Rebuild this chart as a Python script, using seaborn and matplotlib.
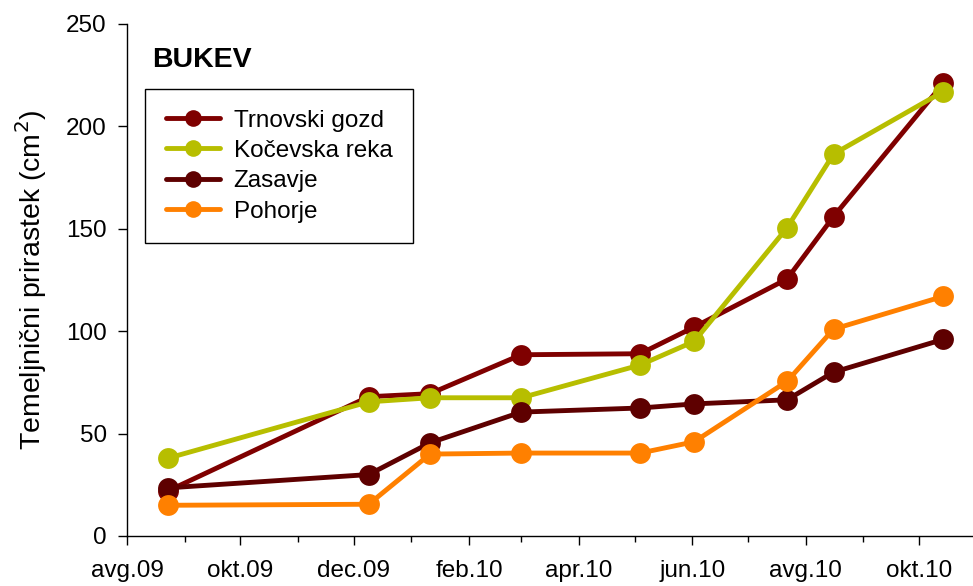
import matplotlib
matplotlib.use("Agg")
import matplotlib.pyplot as plt
import matplotlib.dates as mdates
from matplotlib.ticker import FuncFormatter
import seaborn as sns
import pandas as pd

# ---- data ----
dates = ["2009-08-23", "2009-12-09", "2010-01-11", "2010-03-01", "2010-05-04",
         "2010-06-02", "2010-07-22", "2010-08-16", "2010-10-14"]
sites = ["Trnovski gozd", "Kočevska reka", "Zasavje", "Pohorje"]
trnovski = [22, 68, 69.5, 88.5, 89, 102, 125.5, 156, 221]
kocevska = [38, 65.5, 67.5, 67.5, 83.5, 95, 150.5, 186.5, 217]
zasavje = [23.5, 30, 45.5, 60.5, 62.5, 64.5, 66.5, 80, 96]
pohorje = [15, 15.5, 40, 40.5, 40.5, 46, 75.5, 101, 117]
colors = ["#7f0000", "#b7be00", "#5e0000", "#ff8000"]
month_names = {1: "jan", 2: "feb", 3: "mar", 4: "apr", 5: "maj", 6: "jun",
               7: "jul", 8: "avg", 9: "sep", 10: "okt", 11: "nov", 12: "dec"}
yticks = [0, 50, 100, 150, 200, 250]

series = [trnovski, kocevska, zasavje, pohorje]
rows = []
for s, vals in zip(sites, series):
    for d, v in zip(dates, vals):
        rows.append({"date": pd.Timestamp(d), "value": v, "site": s})
df = pd.DataFrame(rows)

sns.set_theme(style="ticks")
plt.rcParams["font.family"] = ["Liberation Sans", "DejaVu Sans"]
plt.rcParams["text.color"] = "black"
plt.rcParams["axes.labelcolor"] = "black"

fig = plt.figure(figsize=(9.73, 5.86), dpi=100)
ax = fig.add_axes([127 / 973, 50 / 586, 846 / 973, 512 / 586])

sns.lineplot(data=df, x="date", y="value", hue="site", hue_order=sites,
             palette=colors, marker="o", markersize=15, markeredgewidth=0,
             linewidth=3.5, ax=ax, legend=True)

ax.set_xlim(pd.Timestamp("2009-08-01"), pd.Timestamp("2010-10-30"))
ax.set_ylim(0, 250)
ax.set_yticks(yticks)

ax.xaxis.set_major_locator(mdates.MonthLocator(bymonth=[2, 4, 6, 8, 10, 12]))
ax.xaxis.set_minor_locator(mdates.MonthLocator())
ax.xaxis.set_major_formatter(FuncFormatter(
    lambda x, pos: f"{month_names[mdates.num2date(x).month]}.{mdates.num2date(x).year % 100:02d}"))

for side in ["top", "right"]:
    ax.spines[side].set_visible(False)
for side in ["left", "bottom"]:
    ax.spines[side].set_linewidth(1.0)
    ax.spines[side].set_color("black")

ax.tick_params(axis="both", which="major", direction="out", length=6.5, width=1.0,
               labelsize=17.5, colors="black", labelcolor="black")
ax.tick_params(axis="x", which="major", pad=11)
ax.tick_params(axis="y", which="major", pad=8)
ax.tick_params(axis="x", which="minor", direction="out", length=4, width=1.0, colors="black")
ax.tick_params(axis="y", which="minor", length=0)

ax.set_xlabel("")
ax.set_ylabel("Temeljnični prirastek (cm$^2$)", fontsize=20.5, labelpad=12, color="black")

ax.text(0.03, 0.93, "BUKEV", transform=ax.transAxes, fontsize=20.5,
        fontweight="bold", va="center", ha="left", color="black")

handles, labels = ax.get_legend_handles_labels()
leg = ax.legend(handles, labels, loc="upper left", bbox_to_anchor=(0.0213, 0.873),
                borderaxespad=0, fontsize=17.5, frameon=True, fancybox=False,
                framealpha=1, edgecolor="black", handlelength=2.25,
                handletextpad=0.55, labelspacing=0.34, borderpad=0.85,
                markerscale=0.8)
leg.get_frame().set_linewidth(1.0)
for t in leg.get_texts():
    t.set_color("black")

ax.grid(False)
fig.savefig("out.png", dpi=100)
